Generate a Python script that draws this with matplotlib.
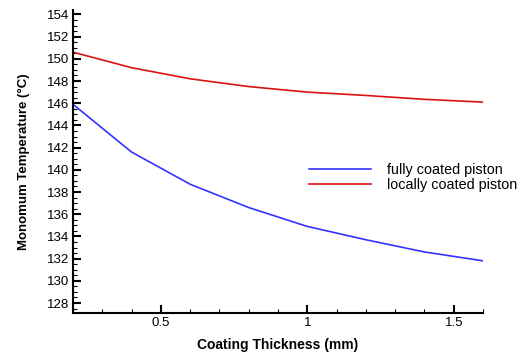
import numpy as np
from matplotlib import pyplot as plt
from matplotlib.ticker import MultipleLocator

plt.rcParams['font.family'] = ['Liberation Sans', 'DejaVu Sans']

thickness = [0.2, 0.4, 0.6, 0.8, 1.0, 1.2, 1.4, 1.6]
fully_coated = [145.9, 141.6, 138.7, 136.6, 134.9, 133.7, 132.6, 131.8]
locally_coated = [150.6, 149.2, 148.2, 147.5, 147.0, 146.7, 146.35, 146.1]

fig = plt.figure(figsize=(5.23, 3.54), dpi=100)
ax = fig.add_axes([0.1396, 0.1158, 0.784, 0.856])

ax.plot(thickness, fully_coated, color="#3333ff", lw=1.2, label="fully coated piston")
ax.plot(thickness, locally_coated, color="#dd1111", lw=1.2, label="locally coated piston")

ax.set_xlim(0.2, 1.6)
ax.set_ylim(127.1, 154.4)
ax.xaxis.set_major_locator(MultipleLocator(0.5))
ax.xaxis.set_minor_locator(MultipleLocator(0.1))
ax.yaxis.set_major_locator(MultipleLocator(2))
ax.yaxis.set_minor_locator(MultipleLocator(0.5))
ax.xaxis.set_major_formatter(plt.FuncFormatter(lambda v, p: "%g" % v))

for s in ["top", "right"]:
    ax.spines[s].set_visible(False)
for s in ["left", "bottom"]:
    ax.spines[s].set_linewidth(1.5)

ax.tick_params(which="major", direction="in", length=6, width=1.5, labelsize=9.5, pad=3)
ax.tick_params(which="minor", direction="in", length=3, width=0.8)

ax.set_xlabel("Coating Thickness (mm)", fontsize=10, fontweight="bold", labelpad=6)
ax.set_ylabel("Monomum Temperature (°C)", fontsize=9.5, fontweight="bold", labelpad=12)

ax.legend(loc="upper left", bbox_to_anchor=(0.576, 0.495), frameon=False, fontsize=10.4,
          handlelength=4.3, handletextpad=1.1, labelspacing=0.1, borderaxespad=0, borderpad=0)

fig.savefig("out.png", dpi=100)
